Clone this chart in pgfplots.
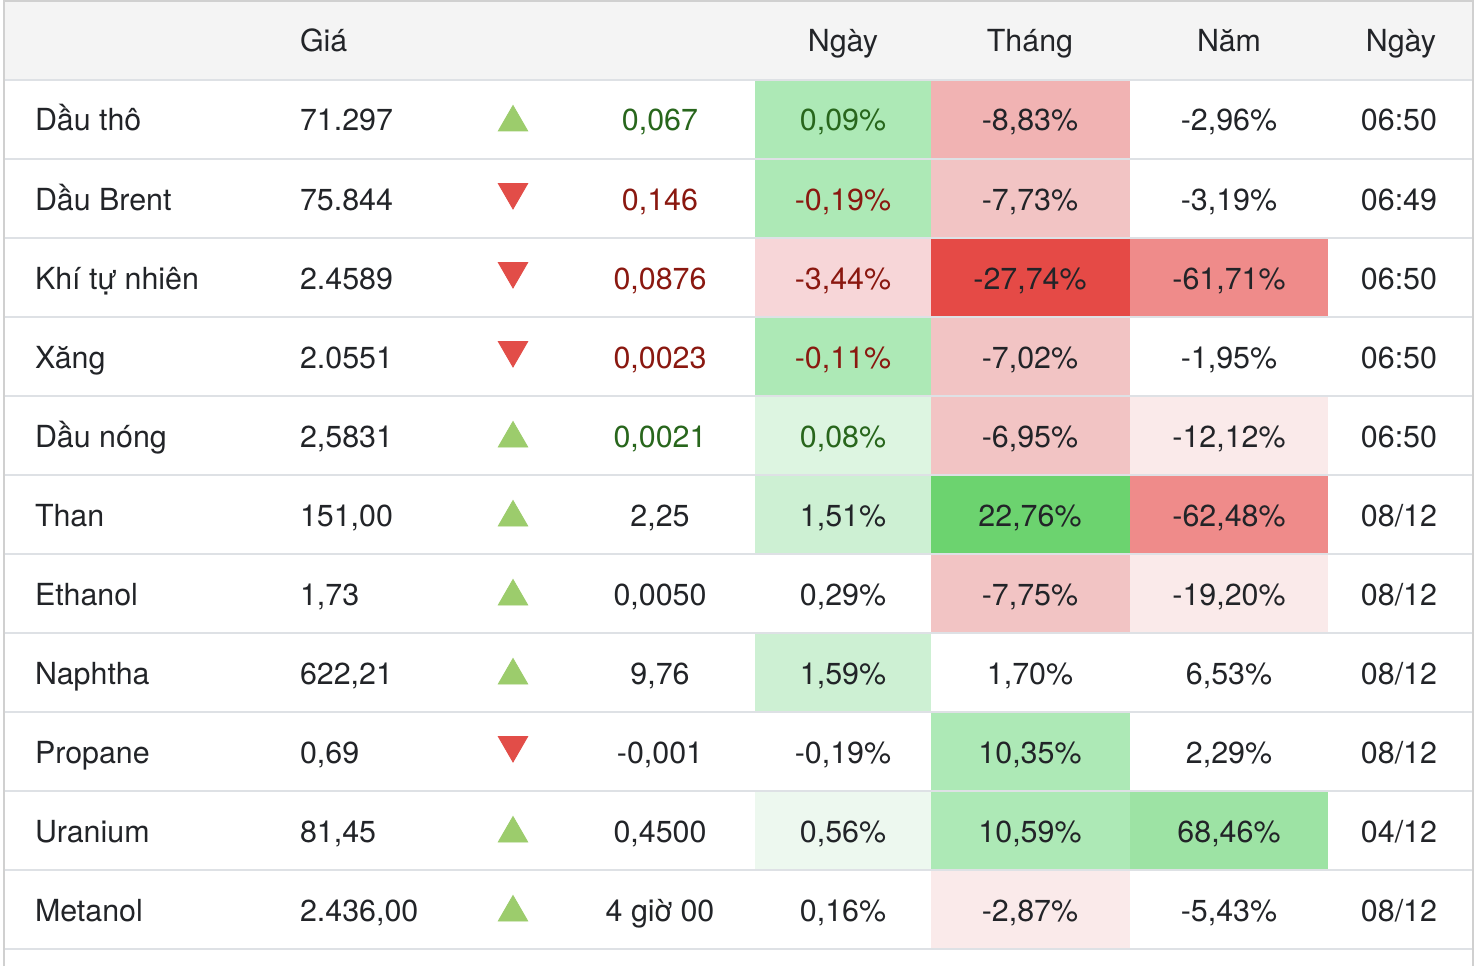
\documentclass[border=0pt]{standalone}
\usepackage{fontspec}
\setmainfont{TeX Gyre Heros}
\usepackage{pgfplots}
\pgfplotsset{compat=1.18}
\definecolor{txt}{RGB}{34,36,40}
\definecolor{gtxt}{RGB}{40,102,28}
\definecolor{rtxt}{RGB}{138,24,16}
\definecolor{hdr}{RGB}{244,244,244}
\definecolor{linec}{RGB}{222,225,229}
\definecolor{bord}{RGB}{208,208,208}
\definecolor{gA}{RGB}{108,211,111}
\definecolor{gB}{RGB}{157,227,164}
\definecolor{gC}{RGB}{173,233,182}
\definecolor{gD}{RGB}{205,240,211}
\definecolor{gE}{RGB}{221,245,225}
\definecolor{gF}{RGB}{237,248,239}
\definecolor{rA}{RGB}{229,74,70}
\definecolor{rB}{RGB}{239,139,138}
\definecolor{rC}{RGB}{241,179,179}
\definecolor{rD}{RGB}{242,196,196}
\definecolor{rE}{RGB}{247,214,216}
\definecolor{rF}{RGB}{250,234,234}
\definecolor{upc}{RGB}{156,204,108}
\definecolor{dnc}{RGB}{226,77,72}
\newcommand{\cell}[5]{\addplot[draw=none, fill=#5, forget plot] coordinates {(#1,#3) (#2,#3) (#2,#4) (#1,#4)} -- cycle;}
\newcommand{\rowline}[1]{\addplot[draw=linec, line width=1bp, forget plot] coordinates {(4,#1) (1473,#1)};}
\tikzset{tt/.style={inner sep=0pt, outer sep=0pt, text=txt, font=\fontsize{15.2bp}{18bp}\selectfont}}
\newcommand{\rowtxt}[9]{%
  \node[tt, anchor=base west] at (axis cs:35,#1) {#2};
  \node[tt, anchor=base west] at (axis cs:300,#1) {#3};
  \node[tt, anchor=base] at (axis cs:660,#1) {#4};
  \node[tt, anchor=base] at (axis cs:843,#1) {#5};
  \node[tt, anchor=base] at (axis cs:1030,#1) {#6};
  \node[tt, anchor=base] at (axis cs:1229,#1) {#7};
  \node[tt, anchor=base east] at (axis cs:1437,#1) {#8};}
\begin{document}
\begin{tikzpicture}
\begin{axis}[hide axis, scale only axis, width=741bp, height=483bp,
  xmin=0, xmax=1482, ymin=0, ymax=966, y dir=reverse, clip=false]
% background and header
\cell{0}{1482}{0}{966}{white}
\cell{4}{1473}{1}{80}{hdr}
% Ngay % column
\cell{755}{931}{80}{159}{gC}
\cell{755}{931}{159}{238}{gC}
\cell{755}{931}{238}{317}{rE}
\cell{755}{931}{317}{396}{gC}
\cell{755}{931}{396}{475}{gE}
\cell{755}{931}{475}{554}{gD}
\cell{755}{931}{633}{712}{gD}
\cell{755}{931}{791}{870}{gF}
% Thang column
\cell{931}{1130}{80}{159}{rC}
\cell{931}{1130}{159}{238}{rD}
\cell{931}{1130}{238}{317}{rA}
\cell{931}{1130}{317}{396}{rD}
\cell{931}{1130}{396}{475}{rD}
\cell{931}{1130}{475}{554}{gA}
\cell{931}{1130}{554}{633}{rD}
\cell{931}{1130}{712}{791}{gC}
\cell{931}{1130}{791}{870}{gC}
\cell{931}{1130}{870}{949}{rF}
% Nam column
\cell{1130}{1328}{238}{317}{rB}
\cell{1130}{1328}{396}{475}{rF}
\cell{1130}{1328}{475}{554}{rB}
\cell{1130}{1328}{554}{633}{rF}
\cell{1130}{1328}{791}{870}{gB}
% row lines
\rowline{80}\rowline{159}\rowline{238}\rowline{317}\rowline{396}\rowline{475}
\rowline{554}\rowline{633}\rowline{712}\rowline{791}\rowline{870}\rowline{949}
% outer border
\addplot[draw=bord, line width=1bp, forget plot] coordinates {(4,966) (4,1) (1473,1) (1473,966)};
% arrows
\addplot[only marks, mark=triangle*, mark size=8.5bp, color=upc, forget plot]
  coordinates {(513,122.5) (513,438.5) (513,517.5) (513,596.5) (513,675.5) (513,833.5) (513,912.5)};
\addplot[only marks, mark=triangle*, mark size=8.5bp, color=dnc, mark options={rotate=180}, forget plot]
  coordinates {(513,192) (513,271) (513,350) (513,745)};
% header text
\node[tt, anchor=base west] at (axis cs:300,51.5) {Giá};
\node[tt, anchor=base] at (axis cs:843,51.5) {Ngày};
\node[tt, anchor=base] at (axis cs:1030,51.5) {Tháng};
\node[tt, anchor=base] at (axis cs:1229,51.5) {Năm};
\node[tt, anchor=base east] at (axis cs:1436,51.5) {Ngày};
% rows
\rowtxt{131}{Dầu thô}{71.297}{\color{gtxt}0,067}{\color{gtxt}0,09\%}{-8,83\%}{-2,96\%}{06:50}{}
\rowtxt{210}{Dầu Brent}{75.844}{\color{rtxt}0,146}{\color{rtxt}-0,19\%}{-7,73\%}{-3,19\%}{06:49}{}
\rowtxt{289}{Khí tự nhiên}{2.4589}{\color{rtxt}0,0876}{\color{rtxt}-3,44\%}{-27,74\%}{-61,71\%}{06:50}{}
\rowtxt{368}{Xăng}{2.0551}{\color{rtxt}0,0023}{\color{rtxt}-0,11\%}{-7,02\%}{-1,95\%}{06:50}{}
\rowtxt{447}{Dầu nóng}{2,5831}{\color{gtxt}0,0021}{\color{gtxt}0,08\%}{-6,95\%}{-12,12\%}{06:50}{}
\rowtxt{526}{Than}{151,00}{2,25}{1,51\%}{22,76\%}{-62,48\%}{08/12}{}
\rowtxt{605}{Ethanol}{1,73}{0,0050}{0,29\%}{-7,75\%}{-19,20\%}{08/12}{}
\rowtxt{684}{Naphtha}{622,21}{9,76}{1,59\%}{1,70\%}{6,53\%}{08/12}{}
\rowtxt{763}{Propane}{0,69}{-0,001}{-0,19\%}{10,35\%}{2,29\%}{08/12}{}
\rowtxt{842}{Uranium}{81,45}{0,4500}{0,56\%}{10,59\%}{68,46\%}{04/12}{}
\rowtxt{921}{Metanol}{2.436,00}{4 giờ 00}{0,16\%}{-2,87\%}{-5,43\%}{08/12}{}
\end{axis}
\end{tikzpicture}
\end{document}
